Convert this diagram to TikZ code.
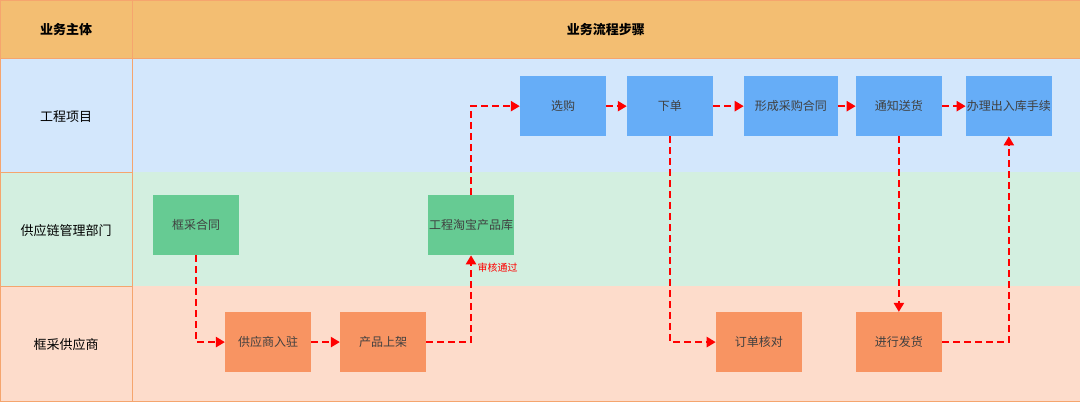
\documentclass[tikz,border=0pt]{standalone}
\usepackage{fontspec}
\setmainfont{Noto Sans CJK SC}
\usetikzlibrary{positioning,arrows.meta}
\definecolor{hdr}{HTML}{F3BE72}
\definecolor{rowa}{HTML}{D3E7FC}
\definecolor{rowb}{HTML}{D3EFE0}
\definecolor{rowc}{HTML}{FDDCCB}
\definecolor{bluebox}{HTML}{66ADF7}
\definecolor{greenbox}{HTML}{66CB93}
\definecolor{orangebox}{HTML}{F89462}
\definecolor{edge}{HTML}{F5A56E}
\tikzset{
  stepbox/.style={rectangle, minimum width=86pt, minimum height=60pt, inner sep=0pt, font=\fontsize{12}{14}\selectfont, text=black!75},
  flow/.style={-{Triangle[length=9pt,width=10pt]}, red, dash pattern=on 7pt off 4pt, line width=2.6pt}
}
\begin{document}
\begin{tikzpicture}[x=1pt,y=-1pt]
			%lanes
			\fill [hdr] (0,0) rectangle (1080,58);
			\fill [rowa] (0,58) rectangle (1080,172);
			\fill [rowb] (0,172) rectangle (1080,286);
			\fill [rowc] (0,286) rectangle (1080,401);
			\draw [edge] (0,0) rectangle (1080,401);
			\draw [edge] (132,0) -- (132,401);
			\draw [edge] (0,58) -- (1080,58);
			\draw [edge] (0,172) -- (132,172);
			\draw [edge] (0,286) -- (132,286);
			%headings
			\node (h1) at (66,29) [font=\fontsize{13}{15}\selectfont\bfseries] {业务主体};
			\node (h2) at (606,29) [font=\fontsize{13}{15}\selectfont\bfseries] {业务流程步骤};
			\node (l1) at (66,116) [font=\fontsize{13}{15}\selectfont] {工程项目};
			\node (l2) at (66,230) [font=\fontsize{13}{15}\selectfont] {供应链管理部门};
			\node (l3) at (66,344) [font=\fontsize{13}{15}\selectfont] {框采供应商};
			%steps
			\node (buy) at (563,106) [stepbox, fill=bluebox] {选购};
			\node (order) at (670,106) [stepbox, fill=bluebox] {下单};
			\node (contract) at (791,106) [stepbox, fill=bluebox, minimum width=94pt] {形成采购合同};
			\node (notify) at (899,106) [stepbox, fill=bluebox] {通知送货};
			\node (stock) at (1009,106) [stepbox, fill=bluebox] {办理出入库手续};
			\node (frame) at (196,225) [stepbox, fill=greenbox] {框采合同};
			\node (lib) at (471,225) [stepbox, fill=greenbox] {工程淘宝产品库};
			\node (join) at (268,342) [stepbox, fill=orangebox] {供应商入驻};
			\node (shelf) at (383,342) [stepbox, fill=orangebox] {产品上架};
			\node (check) at (759,342) [stepbox, fill=orangebox] {订单核对};
			\node (ship) at (899,342) [stepbox, fill=orangebox] {进行发货};
			%flow
			\draw [flow] (frame.south) |- (join.west);
			\draw [flow] (join) -- (shelf);
			\draw [flow] (shelf.east) -| (lib.south) node [pos=0.93, right=2pt, text=red, font=\fontsize{10}{12}\selectfont] {审核通过};
			\draw [flow] (lib.north) |- (buy.west);
			\draw [flow] (buy) -- (order);
			\draw [flow] (order) -- (contract);
			\draw [flow] (contract) -- (notify);
			\draw [flow] (notify) -- (stock);
			\draw [flow] (order.south) |- (check.west);
			\draw [flow] (notify.south) -- (ship.north);
			\draw [flow] (ship.east) -| (stock.south);
\end{tikzpicture}
\end{document}
